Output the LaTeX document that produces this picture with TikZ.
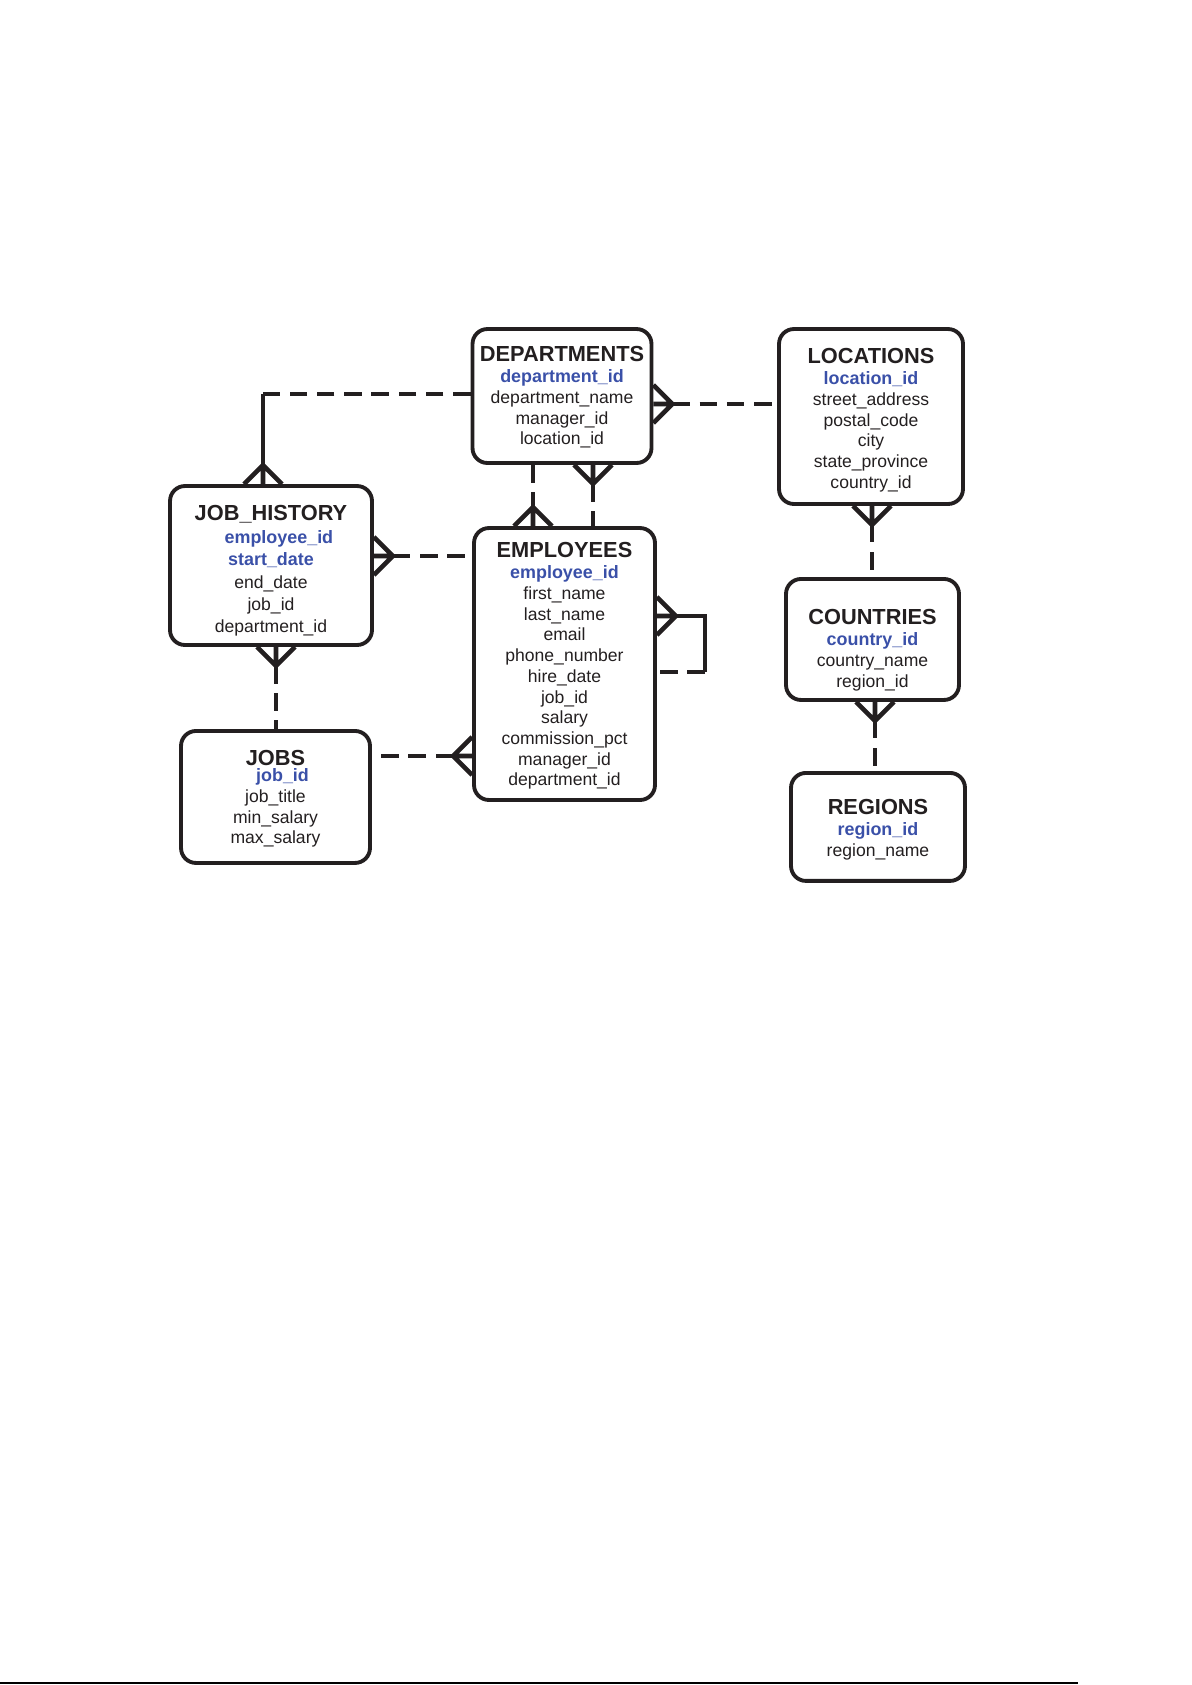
\documentclass[tikz,border=0pt]{standalone}
\usepackage{fontspec}
\setmainfont{Liberation Sans}
\usetikzlibrary{calc}
\definecolor{keyblue}{RGB}{58,80,168}
\definecolor{inkgray}{RGB}{35,31,32}
\newcommand{\tname}[2][2pt]{{\fontsize{12.4}{14}\selectfont\bfseries\rule{0pt}{\dimexpr 9pt+#1\relax}#2}}
\newcommand{\pkey}[1]{{\color{keyblue}\fontsize{10.2}{11.8}\selectfont\bfseries #1}}
\tikzset{
  crow/.pic={
    \draw (-19,0) -- (0,-19) -- (19,0) (0,0) -- (0,-19);
    \coordinate (-tip) at (0,-19);
  }
}

\begin{document}
\begin{tikzpicture}[x=0.02cm, y=-0.02cm, line width=2.6pt, color=inkgray]
\tikzstyle{table}=[draw, rounded corners=8.5pt, line width=2.2pt, align=center, inner sep=0pt, font=\fontsize{10}{11.8}\selectfont]
\tikzstyle{link}=[dash pattern=on 10pt off 5.5pt]
\useasboundingbox (0,0) rectangle (1192,1685);

	\node[table, minimum width=3.58cm, minimum height=2.68cm] (departments) at (562,396) {\tname[1.2pt]{DEPARTMENTS}\\[0.3pt] \pkey{department\_id}\\ department\_name\\ manager\_id\\ location\_id};
	\node[table, minimum width=3.68cm, minimum height=3.5cm] (locations) at (871,416.5) {\tname[3.7pt]{LOCATIONS}\\[0.3pt] \pkey{location\_id}\\ street\_address\\ postal\_code\\ city\\ state\_province\\ country\_id};
	\node[table, minimum width=4.04cm, minimum height=3.18cm, font=\fontsize{10}{12.7}\selectfont] (jobhist) at (271,565.5) {\tname[5.5pt]{JOB\_HISTORY}\\[0.7pt] \hspace*{9pt}\pkey{employee\_id}\\ \pkey{start\_date}\\ end\_date\\ job\_id\\ department\_id};
	\node[table, minimum width=3.62cm, minimum height=5.44cm] (employees) at (564.5,664) {\tname[1.8pt]{EMPLOYEES}\\[0.3pt] \pkey{employee\_id}\\ first\_name\\ last\_name\\ email\\ phone\_number\\ hire\_date\\ job\_id\\ salary\\ commission\_pct\\ manager\_id\\ department\_id};
	\node[table, minimum width=3.78cm, minimum height=2.64cm, below of=jobhist, node distance=4.63cm, xshift=0.09cm] (jobs) {\tname[1.8pt]{JOBS}\\[-2.4pt] \hspace*{8pt}\pkey{job\_id}\\ job\_title\\ min\_salary\\ max\_salary};
	\node[table, minimum width=3.46cm, minimum height=2.42cm, below of=locations, node distance=4.46cm, xshift=0.03cm] (countries) {\tname[11.6pt]{COUNTRIES}\\[0.3pt] \pkey{country\_id}\\ country\_name\\ region\_id};
	\node[table, minimum width=3.48cm, minimum height=2.16cm, below of=countries, node distance=3.75cm, xshift=0.11cm] (regions) {\tname[3pt]{REGIONS}\\[0.3pt] \pkey{region\_id}\\ region\_name};

	% departments -- job_history
	\coordinate (bend) at (263,394);
	\draw[link] (departments.west |- bend) -- (bend);
	\draw (bend) -- (bend |- jobhist.north);
	\pic (jh1) at (bend |- jobhist.north) {crow};

	% departments -- locations
	\pic[rotate=-90] (dl) at (departments.east |- 0,404) {crow};
	\draw[link] (dl-tip) -- (locations.west |- dl-tip);

	% departments -- employees
	\pic (de) at (employees.north -| 533,0) {crow};
	\draw[link] (departments.south -| de-tip) -- (de-tip);
	\pic[rotate=180] (em) at (departments.south -| 593,0) {crow};
	\draw[link] (em-tip) -- (employees.north -| em-tip);

	% job_history -- employees, jobs
	\pic[rotate=-90] (jh2) at (jobhist.east |- 0,556) {crow};
	\draw[link] (jh2-tip) -- (employees.west |- jh2-tip);
	\pic[rotate=180] (jh3) at (jobhist.south -| 276,0) {crow};
	\draw[link] (jh3-tip) -- (jobs.north -| jh3-tip);

	% jobs -- employees
	\pic[rotate=90] (ej) at (employees.west |- 0,756) {crow};
	\draw[link] (ej-tip) -- (jobs.east |- ej-tip);

	% manager
	\pic[rotate=-90] (mg) at (employees.east |- 0,616) {crow};
	\coordinate (loop) at (705,672);
	\draw (mg-tip) -| (loop);
	\draw[link] (loop) -- (employees.east |- loop);

	% locations -- countries -- regions
	\pic[rotate=180] (lc) at (locations.south -| 872,0) {crow};
	\draw[link] (lc-tip) -- (countries.north -| lc-tip);
	\pic[rotate=180] (cr) at (countries.south -| 875,0) {crow};
	\draw[link] (cr-tip) -- (regions.north -| cr-tip);

	\draw[line width=0.9pt, black] (0,1683) -- (1078,1683);
\end{tikzpicture}
\end{document}
